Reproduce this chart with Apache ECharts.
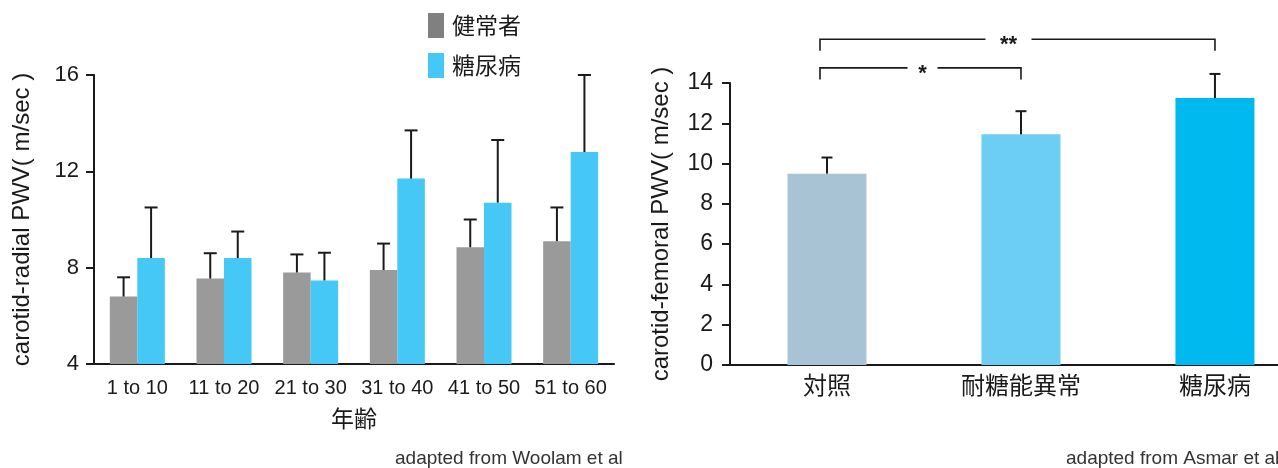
<!DOCTYPE html>
<html>
<head>
<meta charset="utf-8">
<script src="https://cdn.jsdelivr.net/npm/echarts@6/dist/echarts.min.js"></script>
<style>
  html, body { margin: 0; padding: 0; background: #fff; overflow: hidden; }
  #chart { width: 1278px; height: 468px; }
</style>
</head>
<body>
<div id="chart"></div>
<script>
// Carotid-radial PWV by age group (m/sec): mean and upper end of error bar
const ageGroups = ['1 to 10', '11 to 20', '21 to 30', '31 to 40', '41 to 50', '51 to 60'];
const healthyMean = [6.8, 7.55, 7.8, 7.9, 8.85, 9.1];
const healthyUpper = [7.6, 8.6, 8.55, 9.0, 10.0, 10.5];
const diabetesMean = [8.4, 8.4, 7.47, 11.7, 10.7, 12.8];
const diabetesUpper = [10.5, 9.5, 8.62, 13.7, 13.3, 16.0];
const radialTicks = [4, 8, 12, 16];

// Carotid-femoral PWV by glucose tolerance (m/sec)
const toleranceGroups = ['対照', '耐糖能異常', '糖尿病'];
const femoralMean = [9.5, 11.45, 13.25];
const femoralUpper = [10.3, 12.6, 14.45];
const femoralTicks = [0, 2, 4, 6, 8, 10, 12, 14];

// Significance brackets: from/to group index, bracket height (m/sec), label
const bracketFrom = [0, 0];
const bracketTo = [1, 2];
const bracketLevel = [14.75, 16.17];
const bracketMark = ['*', '**'];

const LATIN = "'Liberation Sans', Arial, sans-serif";
const CJK = "'Noto Sans CJK JP', 'Noto Sans CJK SC', sans-serif";
const INK = '#1a1a1a';

const chart = echarts.init(document.getElementById('chart'), null, { renderer: 'canvas' });

function errorBars(name, xAxisIndex, yAxisIndex, means, uppers, offset, capHalf) {
  return {
    type: 'custom',
    name: name,
    xAxisIndex: xAxisIndex,
    yAxisIndex: yAxisIndex,
    silent: true,
    z: 5,
    data: means.map((m, i) => [i, m, uppers[i]]),
    renderItem(params, api) {
      const base = api.coord([api.value(0), api.value(1)]);
      const top = api.coord([api.value(0), api.value(2)]);
      const x = base[0] + offset;
      return {
        type: 'group',
        children: [
          { type: 'line', shape: { x1: x, y1: base[1], x2: x, y2: top[1] },
            style: { stroke: INK, lineWidth: 2 } },
          { type: 'line', shape: { x1: x - capHalf, y1: top[1], x2: x + capHalf, y2: top[1] },
            style: { stroke: INK, lineWidth: 2 } }
        ]
      };
    }
  };
}

const radialBarWidth = 27.5;

const option = {
  backgroundColor: '#ffffff',
  animation: false,
  legend: {
    left: 428,
    top: 13,
    orient: 'vertical',
    padding: 0,
    itemWidth: 16,
    itemHeight: 25,
    itemGap: 15,
    icon: 'rect',
    selectedMode: false,
    textStyle: { fontFamily: CJK, fontSize: 23, color: INK, padding: [0, 0, 0, 3] },
    data: [
      { name: '健常者', itemStyle: { color: '#808080' } },
      { name: '糖尿病', itemStyle: { color: '#45c8f5' } }
    ]
  },
  grid: [
    { left: 94, top: 75, width: 520, height: 289 },
    { left: 730, top: 83, right: 0, height: 282 }
  ],
  xAxis: [
    {
      type: 'category', gridIndex: 0, data: ageGroups,
      axisLine: { lineStyle: { color: INK, width: 2 } },
      axisTick: { show: false },
      axisLabel: { color: INK, fontFamily: LATIN, fontSize: 20, margin: 14, interval: 0 },
      name: '年齢', nameLocation: 'middle', nameGap: 43,
      nameTextStyle: { color: INK, fontFamily: CJK, fontSize: 23 }
    },
    {
      // groups sit at 0, 1, 2; the axis is cut off at the right edge of the page
      type: 'value', gridIndex: 1, min: -0.5, max: 2.325,
      splitLine: { show: false },
      axisLine: { onZero: false, lineStyle: { color: INK, width: 2 } },
      axisTick: { show: false },
      axisLabel: {
        color: INK, fontFamily: CJK, fontSize: 24, margin: 8,
        customValues: [0, 1, 2],
        formatter: (v) => toleranceGroups[Math.round(v)]
      }
    }
  ],
  yAxis: [
    {
      type: 'value', gridIndex: 0,
      min: radialTicks[0], max: radialTicks[radialTicks.length - 1], interval: 4,
      splitLine: { show: false },
      axisLine: { show: true, onZero: false, lineStyle: { color: INK, width: 2 } },
      axisTick: { show: true, length: 8, lineStyle: { color: INK, width: 2 } },
      axisLabel: { color: INK, fontFamily: LATIN, fontSize: 22, margin: 15 },
      name: 'carotid-radial PWV( m/sec )', nameLocation: 'middle', nameRotate: 90, nameGap: 60,
      nameTextStyle: { color: INK, fontFamily: LATIN, fontSize: 24 }
    },
    {
      type: 'value', gridIndex: 1,
      min: femoralTicks[0], max: femoralTicks[femoralTicks.length - 1], interval: 2,
      splitLine: { show: false },
      axisLine: { show: true, onZero: false, lineStyle: { color: INK, width: 2 } },
      axisTick: { show: true, length: 8, lineStyle: { color: INK, width: 2 } },
      axisLabel: { color: INK, fontFamily: LATIN, fontSize: 23, margin: 17 },
      name: 'carotid-femoral PWV( m/sec )', nameLocation: 'middle', nameRotate: 90, nameGap: 57,
      nameTextStyle: { color: INK, fontFamily: LATIN, fontSize: 24 }
    }
  ],
  series: [
    {
      name: '健常者', type: 'bar', xAxisIndex: 0, yAxisIndex: 0,
      data: healthyMean, barWidth: radialBarWidth, barGap: '0%',
      itemStyle: { color: '#9a9a9a' }, silent: true
    },
    {
      name: '糖尿病', type: 'bar', xAxisIndex: 0, yAxisIndex: 0,
      data: diabetesMean, barWidth: radialBarWidth, barGap: '0%',
      itemStyle: { color: '#45c8f5' }, silent: true
    },
    errorBars('healthy-sd', 0, 0, healthyMean, healthyUpper, -radialBarWidth / 2, 6.5),
    errorBars('diabetes-sd', 0, 0, diabetesMean, diabetesUpper, radialBarWidth / 2, 6.5),
    {
      name: 'femoral', type: 'bar', xAxisIndex: 1, yAxisIndex: 1,
      barWidth: 79, silent: true,
      data: femoralMean.map((v, i) => ({
        value: [i, v],
        itemStyle: { color: ['#a7c3d4', '#6dcef5', '#00b9ef'][i] }
      }))
    },
    errorBars('femoral-sd', 1, 1, femoralMean, femoralUpper, 0, 5.5),
    {
      type: 'custom', name: 'brackets', xAxisIndex: 1, yAxisIndex: 1,
      silent: true, z: 6,
      data: bracketFrom.map((f, i) => [f, bracketTo[i], bracketLevel[i]]),
      renderItem(params, api) {
        const i = params.dataIndex;
        const a = api.coord([api.value(0), api.value(2)]);
        const b = api.coord([api.value(1), api.value(2)]);
        const x1 = a[0] - 7;
        const x2 = b[0];
        const y = a[1];
        const drop = 11.5;
        const mark = bracketMark[i];
        const gapHalf = mark.length > 1 ? 23 : 15;
        const mid = mark.length > 1 ? (x1 + x2) / 2 - 9 : (x1 + x2) / 2 + 2;
        const stroke = { stroke: INK, lineWidth: 1.6, fill: null };
        return {
          type: 'group',
          children: [
            { type: 'polyline', shape: { points: [[x1, y + drop], [x1, y], [mid - gapHalf, y]] }, style: stroke },
            { type: 'polyline', shape: { points: [[mid + gapHalf, y], [x2, y], [x2, y + drop]] }, style: stroke },
            { type: 'text', x: mid, y: y + 6,
              style: { text: mark, fill: INK, font: "bold 22px 'Liberation Sans', Arial, sans-serif",
                       align: 'center', verticalAlign: 'middle' } }
          ]
        };
      }
    }
  ],
  graphic: [
    { type: 'text', left: 395, top: 449,
      style: { text: 'adapted from Woolam et al', fill: '#333333',
               font: "19px 'Liberation Sans', Arial, sans-serif" } },
    { type: 'text', left: 1066, top: 449,
      style: { text: 'adapted from Asmar et al', fill: '#333333',
               font: "19px 'Liberation Sans', Arial, sans-serif" } }
  ]
};

chart.setOption(option);
</script>
</body>
</html>
